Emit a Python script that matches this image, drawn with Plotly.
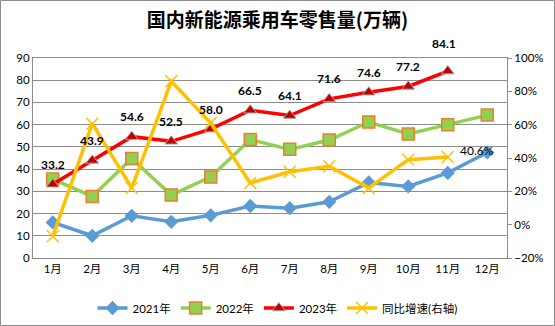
import plotly.graph_objects as go

months = ["1月", "2月", "3月", "4月", "5月", "6月", "7月", "8月", "9月", "10月", "11月", "12月"]
y2021 = [16.0, 10.0, 19.0, 16.3, 19.2, 23.4, 22.4, 25.3, 34.0, 32.2, 38.3, 47.5]
y2022 = [35.5, 27.7, 44.8, 28.3, 36.5, 53.3, 48.9, 53.1, 61.2, 55.8, 60.0, 64.3]
y2023 = [33.2, 43.9, 54.6, 52.5, 58.0, 66.5, 64.1, 71.6, 74.6, 77.2, 84.1]
growth = [-0.07, 0.606, 0.22, 0.86, 0.61, 0.25, 0.317, 0.35, 0.22, 0.39, 0.406]
extra_label = "40.6%"

W, H = 555, 326
L, R, T, B = 33, 48, 58, 68
pw, ph = W - L - R, H - T - B

font_fam = "Lato, Noto Sans CJK SC, sans-serif"
grid = "#8c8c8c"

fig = go.Figure()
fig.add_trace(go.Scatter(x=months, y=y2021, name="2021年", mode="lines+markers",
                         line=dict(color="#5B9BD5", width=3.5),
                         marker=dict(symbol="diamond", size=11, color="#5B9BD5")))
fig.add_trace(go.Scatter(x=months, y=y2022, name="2022年", mode="lines+markers",
                         line=dict(color="#92D050", width=3.5),
                         marker=dict(symbol="square", size=12, color="#92D050",
                                     line=dict(color="#ED7D31", width=1.5))))
fig.add_trace(go.Scatter(x=months[:len(y2023)], y=y2023, name="2023年", mode="lines+markers",
                         line=dict(color="#FF0000", width=3.5),
                         marker=dict(symbol="triangle-up", size=11, color="#C00000",
                                     line=dict(color="#A6A6A6", width=1))))
fig.add_trace(go.Scatter(x=months[:len(growth)], y=growth, name="同比增速(右轴)", mode="lines+markers",
                         yaxis="y2",
                         line=dict(color="#FFC000", width=3.5),
                         marker=dict(symbol="x-thin", size=12,
                                     line=dict(color="#FFC000", width=1.5), color="#FFC000")))

annotations = []
for i, v in enumerate(y2023):
    annotations.append(dict(x=months[i], y=v, xref="x", yref="y", text=f"<b>{v:.1f}</b>",
                            showarrow=False, yshift=28 if i == len(y2023) - 1 else 20,
                            xshift=-4 if i == len(y2023) - 1 else 0,
                            font=dict(size=12, color="#000000", family=font_fam)))
annotations.append(dict(x=months[11], y=y2021[11], xref="x", yref="y", text=extra_label,
                        showarrow=False, xshift=-10, yshift=2,
                        font=dict(size=12, color="#000000", family=font_fam)))

fig.update_layout(
    width=W, height=H,
    margin=dict(l=L, r=R, t=T, b=B, autoexpand=False),
    paper_bgcolor="white", plot_bgcolor="white",
    font=dict(family=font_fam, size=11, color="#000000"),
    title=dict(text="<b>国内新能源乘用车零售量(万辆)</b>", x=0.5, xanchor="center",
               y=1 - 20 / H, yanchor="middle",
               font=dict(family="Noto Sans CJK SC, sans-serif", size=19, color="#000000")),
    xaxis=dict(type="category", range=[-0.5, 11.5], showgrid=False, automargin=False,
               showline=True, linecolor=grid, linewidth=1, mirror=True,
               ticks="", ticklen=6, tickfont=dict(size=11.5)),
    yaxis=dict(range=[0, 90], dtick=10, showgrid=True, gridcolor=grid, gridwidth=1,
               showline=True, linecolor=grid, linewidth=1, zeroline=False, automargin=False,
               ticks="", tickfont=dict(size=11.5)),
    yaxis2=dict(range=[-0.2, 1.0], dtick=0.2, tickformat=".0%", overlaying="y", side="right",
                showgrid=False, zeroline=False, showline=True, linecolor=grid, linewidth=1,
                automargin=False,
                ticks="outside", ticklen=4, tickcolor=grid, tickfont=dict(size=11.5)),
    legend=dict(orientation="h", x=(W / 2 - L) / pw, xanchor="center",
                y=-(308 - (T + ph)) / ph, yanchor="middle",
                font=dict(size=11.5), itemwidth=30, traceorder="normal",
                tracegroupgap=0, bgcolor="rgba(0,0,0,0)"),
    annotations=annotations,
    shapes=[dict(type="rect", xref="paper", yref="paper",
                 x0=(0.5 - L) / pw, x1=(W - 0.5 - L) / pw,
                 y0=-(H - 0.5 - T - ph) / ph, y1=1 + (T - 0.5) / ph,
                 line=dict(color="#8c8c8c", width=1), layer="below")],
)

fig.write_html("out.html")
